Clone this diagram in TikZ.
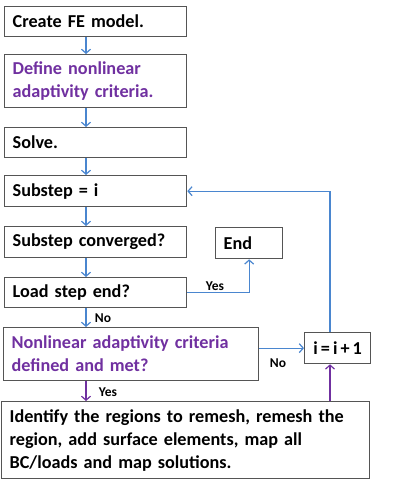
\documentclass[tikz,border=0pt]{standalone}
\usepackage{fontspec}
\setmainfont{Carlito}
\usepackage{xcolor}
\usepackage{tikz}
\usetikzlibrary{calc,arrows.meta}
\definecolor{frame}{HTML}{555555}
\definecolor{flow}{HTML}{4A86CF}
\definecolor{violet}{HTML}{7030A0}
\tikzset{
  stepbox/.style={draw=frame, line width=1.3pt, anchor=north west, align=left,
    inner xsep=8pt, inner ysep=0pt, font=\bfseries\fontsize{18.2}{23}\selectfont},
  flowline/.style={draw=flow, line width=1.2pt, -{Straight Barb[length=4pt,width=9pt]}},
  violetline/.style={draw=violet, line width=1.2pt, -{Straight Barb[length=4pt,width=9pt]}},
  lab/.style={font=\bfseries\fontsize{13.5}{15}\selectfont},
}

\begin{document}
\begin{tikzpicture}[x=1pt,y=-1pt]
  \useasboundingbox (0,0) rectangle (412,490);
  \coordinate (col) at (86,0);
  \coordinate (loop) at (330,0);

  \node[stepbox, text width=166pt, minimum height=30pt] (create) at (4,6) {Create FE model.};
  \node[stepbox, text width=166pt, minimum height=53pt, text=violet] (define) at (4,54)
    {Define nonlinear\\adaptivity criteria.};
  \node[stepbox, text width=166pt, minimum height=30pt] (solve) at (4,127) {Solve.};
  \node[stepbox, text width=166pt, minimum height=31pt] (substep) at (4,175) {Substep = i};
  \node[stepbox, text width=166pt, minimum height=31pt] (conv) at (4,226) {Substep converged?};
  \node[stepbox, text width=166pt, minimum height=30pt] (load) at (4,277) {Load step end?};
  \node[stepbox, text width=239pt, minimum height=53pt, text=violet] (crit) at (3,327)
    {Nonlinear adaptivity criteria\\defined and met?};
  \node[stepbox, text width=352pt, minimum height=77pt] (remesh) at (1,401)
    {Identify the regions to remesh, remesh the\\region, add surface elements, map all\\BC/loads and map solutions.};
  \node[stepbox, text width=51pt, minimum height=31pt] (finish) at (215,227) {End};
  \node[stepbox, text width=50pt, minimum height=31pt, align=center] (incr) at (304,332) {i\,=\,i\,+\,1};

  \draw[flowline] (create.south -| col) -- (define.north -| col);
  \draw[flowline] (define.south -| col) -- (solve.north -| col);
  \draw[flowline] (solve.south -| col) -- (substep.north -| col);
  \draw[flowline] (substep.south -| col) -- (conv.north -| col);
  \draw[flowline] (conv.south -| col) -- (load.north -| col);
  \draw[flowline] (load.south -| col) -- (crit.north -| col);
  \draw[violetline] (crit.south -| col) -- (remesh.north -| col);
  \draw[flowline] (load.east) -| (finish.south);
  \draw[flowline] (crit.east |- incr.west) -- (incr.west);
  \draw[violetline] (remesh.north -| loop) -- (incr.south -| loop);
  \draw[flowline] (incr.north -| loop) |- (substep.east);

  \node[lab] (yesend) at (215,286) {Yes};
  \node[lab] (noload) at (103,318) {No};
  \node[lab] (nocrit) at (278,363) {No};
  \node[lab] (yescrit) at (108,392) {Yes};
\end{tikzpicture}
\end{document}
